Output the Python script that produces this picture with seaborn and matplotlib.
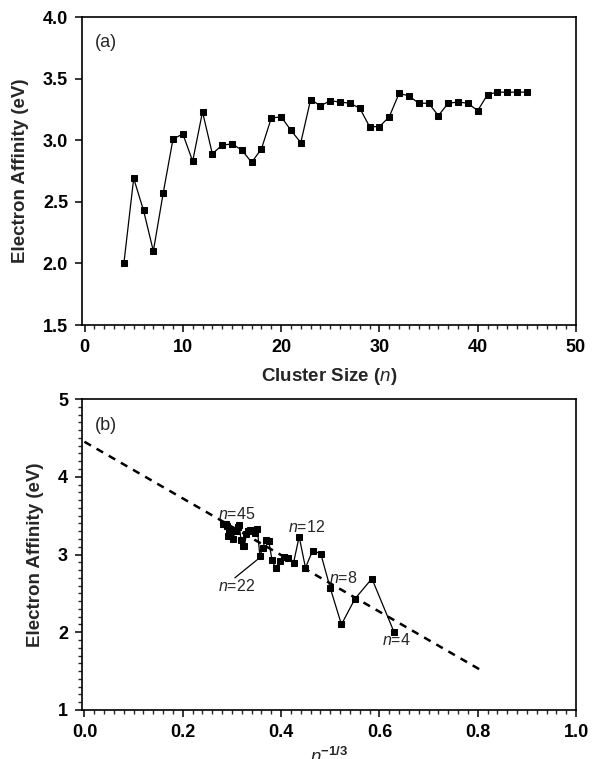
import numpy as np
import pandas as pd
import matplotlib
matplotlib.use("Agg")
import matplotlib.pyplot as plt
from matplotlib.ticker import MultipleLocator
import seaborn as sns

# ---- data ----
cluster_size = [4, 5, 6, 7, 8, 9, 10, 11, 12, 13, 14, 15, 16, 17, 18, 19, 20, 21, 22, 23, 24,
                25, 26, 27, 28, 29, 30, 31, 32, 33, 34, 35, 36, 37, 38, 39, 40, 41, 42, 43, 44, 45]
electron_affinity = [2.00, 2.69, 2.43, 2.10, 2.57, 3.01, 3.05, 2.83, 3.23, 2.89, 2.96, 2.97, 2.92,
                     2.82, 2.93, 3.18, 3.19, 3.08, 2.98, 3.33, 3.28, 3.32, 3.31, 3.30, 3.26, 3.11,
                     3.11, 3.19, 3.38, 3.36, 3.30, 3.30, 3.20, 3.30, 3.31, 3.30, 3.24, 3.37, 3.39,
                     3.39, 3.39, 3.39]
fit_x = [0.0, 0.81]
fit_y = [4.45, 1.50]
annot_labels = ["45", "12", "22", "8", "4"]
annot_pos = [(0.309, 3.52), (0.451, 3.36), (0.310, 2.60), (0.527, 2.70), (0.635, 1.90)]

df = pd.DataFrame({"n": cluster_size, "ea": electron_affinity})
df["x"] = np.power(df["n"].astype(float), -1.0 / 3.0)

sns.set_style("ticks")
plt.rcParams["font.family"] = ["Liberation Sans", "DejaVu Sans"]
plt.rcParams["mathtext.fontset"] = "custom"
plt.rcParams["mathtext.it"] = "Liberation Sans:italic"
plt.rcParams["mathtext.rm"] = "Liberation Sans"
plt.rcParams["mathtext.bf"] = "Liberation Sans:bold"

W, H = 592, 759
fig = plt.figure(figsize=(W / 100, H / 100), dpi=100)
L, R = 82 / W, 576 / W
ax1 = fig.add_axes([L, 1 - 325 / H, R - L, (325 - 17) / H])
ax2 = fig.add_axes([L, 1 - 710 / H, R - L, (710 - 399) / H])

line_kw = dict(color="black", linewidth=0.9, marker="s", markersize=4.2,
               markeredgecolor="black", markerfacecolor="black")

sns.lineplot(data=df, x="n", y="ea", ax=ax1, sort=False, **line_kw)
sns.lineplot(data=df, x="x", y="ea", ax=ax2, sort=False, **line_kw)
sns.lineplot(x=fit_x, y=fit_y, ax=ax2, color="black", linewidth=1.8,
             linestyle=(0, (3.0, 2.6)))

tick_fs = 13
for ax in (ax1, ax2):
    for s in ax.spines.values():
        s.set_linewidth(1.2)
        s.set_color("black")
        s.set_visible(True)
    ax.tick_params(axis="both", which="major", direction="out", length=5, width=1.1,
                   labelsize=tick_fs, pad=5, colors="black")
    ax.tick_params(axis="both", which="minor", direction="out", length=3, width=1.0)
    ax.tick_params(top=False, right=False, which="both")
    ax.set_ylabel("Electron Affinity (eV)", fontsize=13.5, fontweight="bold", labelpad=10)

ax1.set_xlim(-0.26, 50)
ax1.set_ylim(1.5, 4.0)
ax1.set_yticks([1.5, 2.0, 2.5, 3.0, 3.5, 4.0])
ax1.set_yticklabels(["1.5", "2.0", "2.5", "3.0", "3.5", "4.0"], fontweight="bold", fontsize=tick_fs)
ax1.set_xticks([0, 10, 20, 30, 40, 50])
ax1.set_xticklabels(["0", "10", "20", "30", "40", "50"], fontweight="bold", fontsize=tick_fs)
ax1.xaxis.set_minor_locator(MultipleLocator(1))
ax1.set_xlabel("")
ax1.text(0.5, -0.168, "Cluster Size ($n$)", transform=ax1.transAxes, ha="center", va="center",
         fontsize=13.5, fontweight="bold")
ax1.text(0.049, 0.917, "(a)", transform=ax1.transAxes, ha="center", va="center", fontsize=13)

ax2.set_xlim(-0.005, 1.0)
ax2.set_ylim(1, 5)
ax2.set_xticks([0.0, 0.2, 0.4, 0.6, 0.8, 1.0])
ax2.set_xticklabels(["0.0", "0.2", "0.4", "0.6", "0.8", "1.0"], fontweight="bold", fontsize=tick_fs)
ax2.xaxis.set_minor_locator(MultipleLocator(0.02))
ax2.set_yticks([1, 2, 3, 4, 5])
ax2.set_yticklabels(["1", "2", "3", "4", "5"], fontweight="bold", fontsize=tick_fs)
ax2.yaxis.set_minor_locator(MultipleLocator(0.1))
ax2.set_xlabel("")
ax2.text(0.5, -0.152, r"$n$$^{\mathbf{-1/3}}$", transform=ax2.transAxes, ha="center", va="center",
         fontsize=13.5, fontweight="bold")
ax2.text(0.049, 0.916, "(b)", transform=ax2.transAxes, ha="center", va="center", fontsize=13)

for lab, (tx, ty) in zip(annot_labels, annot_pos):
    ax2.text(tx, ty, "$n$=" + lab, ha="center", va="center", fontsize=11.5)
# leader line for n=22
n22 = df.loc[df["n"] == 22].iloc[0]
ax2.plot([0.306, n22["x"] - 0.006], [2.70, n22["ea"] - 0.05], color="black", linewidth=0.9)

fig.savefig("out.png", dpi=100)
